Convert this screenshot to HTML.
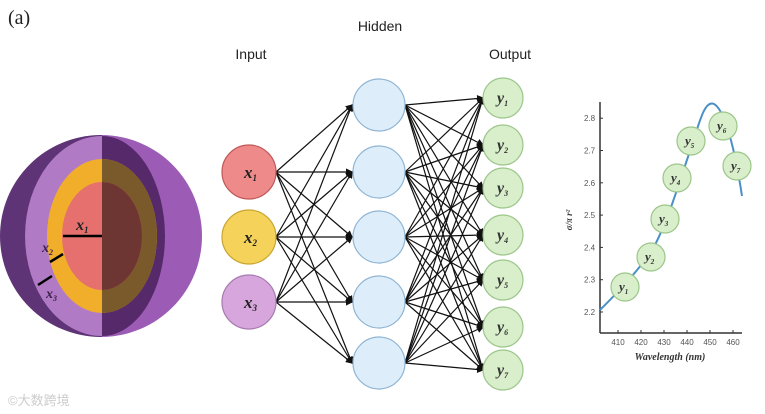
<!DOCTYPE html><html><head><style>body{margin:0;background:#fff}svg{display:block}</style></head><body>
<svg width="765" height="414" viewBox="0 0 765 414" xmlns="http://www.w3.org/2000/svg">
<defs><marker id="a" markerWidth="6" markerHeight="6" refX="5" refY="3" orient="auto"><path d="M0,0L6,3L0,6z" fill="#111"/></marker>
<clipPath id="c"><circle cx="101" cy="236" r="101"/></clipPath></defs>
<text x="8" y="24" font-family="Liberation Serif,serif" font-size="20" fill="#222">(a)</text>
<g clip-path="url(#c)">
<rect x="0" y="130" width="102" height="220" fill="#5e3477"/>
<rect x="102" y="130" width="102" height="220" fill="#9c5cb6"/>
<path d="M102,136 A77,100 0 0 0 102,336z" fill="#b07ac4"/>
<path d="M102,136 A63,100 0 0 1 102,336z" fill="#55296a"/>
<ellipse cx="102" cy="236" rx="55" ry="77" fill="#f0ae2a"/>
<path d="M102,159 A55,77 0 0 1 102,313z" fill="#7a5a2a"/>
<ellipse cx="102" cy="236" rx="40" ry="54" fill="#e5706e"/>
<path d="M102,182 A40,54 0 0 1 102,290z" fill="#6e3632"/>
</g>
<line x1="63" y1="236" x2="102" y2="236" stroke="#000" stroke-width="2.5"/>
<line x1="50" y1="262" x2="63" y2="254" stroke="#000" stroke-width="2.5"/>
<line x1="38" y1="285" x2="52" y2="276" stroke="#000" stroke-width="2.5"/>
<g font-family="Liberation Serif,serif" font-style="italic" font-weight="bold" fill="#222">
<text x="76" y="230" font-size="16">x<tspan font-size="9" dy="3">1</tspan></text>
<text x="42" y="252" font-size="14" fill="#3a1f4a">x<tspan font-size="8" dy="3">2</tspan></text>
<text x="46" y="298" font-size="14" fill="#3a1f4a">x<tspan font-size="8" dy="3">3</tspan></text>
</g>
<g font-family="Liberation Sans,sans-serif" font-size="14" fill="#222">
<text x="380" y="31" text-anchor="middle">Hidden</text>
<text x="251" y="59" text-anchor="middle">Input</text>
<text x="510" y="59" text-anchor="middle">Output</text>
</g>
<g stroke="#111" stroke-width="1.2" marker-end="url(#a)" id="L"></g>
<g id="N"></g>
<g font-family="Liberation Sans,sans-serif" font-size="9" fill="#444">
<line x1="600" y1="102" x2="600" y2="333" stroke="#333" stroke-width="1.5"/>
<line x1="600" y1="333" x2="742" y2="333" stroke="#333" stroke-width="1.5"/>
</g>
<g id="C"></g>
</svg>
<script>
var NS="http://www.w3.org/2000/svg";function el(p,t,a,txt){var e=document.createElementNS(NS,t);for(var k in a)e.setAttribute(k,a[k]);if(txt!=null)e.textContent=txt;p.appendChild(e);return e}
var L=document.getElementById('L'),N=document.getElementById('N'),C=document.getElementById('C');
var inY=[172,237,302],hY=[105,172,237,302,363],oY=[98,145,188,235,280,327,370];
inY.forEach(function(a){hY.forEach(function(b){el(L,'line',{x1:276,y1:a,x2:352,y2:b})})});
hY.forEach(function(a){oY.forEach(function(b){el(L,'line',{x1:405,y1:a,x2:483,y2:b})})});
var ic=[["#ee8a8a","#c05858"],["#f5d35a","#c9a530"],["#d6a6dc","#a77bb0"]];
inY.forEach(function(y,i){el(N,'circle',{cx:249,cy:y,r:27,fill:ic[i][0],stroke:ic[i][1],'stroke-width':1.2});
var t=el(N,'text',{x:244,y:y+6,'font-family':'Liberation Serif,serif','font-style':'italic','font-weight':'bold','font-size':17,fill:'#222'},'x');el(t,'tspan',{'font-size':9,dy:3},String(i+1));});
hY.forEach(function(y){el(N,'circle',{cx:379,cy:y,r:26,fill:"#ddeefa",stroke:"#8fb4d4",'stroke-width':1.2})});
oY.forEach(function(y,i){el(N,'circle',{cx:503,cy:y,r:20,fill:"#d9eecb",stroke:"#9bc68a",'stroke-width':1.2});
var t=el(N,'text',{x:497,y:y+5,'font-family':'Liberation Serif,serif','font-style':'italic','font-weight':'bold','font-size':16,fill:'#333'},'y');el(t,'tspan',{'font-size':8,dy:3},String(i+1));});
for(var v=0;v<=6;v++){var y=312-v*32.3;el(C,'text',{x:584,y:y+3,'font-family':'Liberation Sans,sans-serif','font-size':8,fill:'#555'},(2.2+v/10).toFixed(1));el(C,'line',{x1:600,y1:y,x2:603,y2:y,stroke:'#333'})}
for(var w=0;w<6;w++){var x=618+w*23;el(C,'text',{x:x,y:345,'text-anchor':'middle','font-family':'Liberation Sans,sans-serif','font-size':8,fill:'#555'},String(410+w*10));el(C,'line',{x1:x,y1:333,x2:x,y2:330,stroke:'#333'})}
el(C,'text',{x:670,y:360,'text-anchor':'middle','font-family':'Liberation Serif,serif','font-style':'italic','font-weight':'bold','font-size':10,fill:'#333'},'Wavelength (nm)');
el(C,'text',{x:572,y:220,transform:'rotate(-90 572 220)','text-anchor':'middle','font-family':'Liberation Serif,serif','font-style':'italic','font-weight':'bold','font-size':9,fill:'#333'},'σ/π r²');
el(C,'path',{d:'M600,310 C615,295 640,270 655,245 C670,215 680,180 692,145 C700,120 705,100 714,104 C725,110 735,150 742,196',fill:'none',stroke:'#4a90c8','stroke-width':2});
[[625,287],[651,257],[665,219],[677,178],[691,141],[723,126],[737,166]].forEach(function(p,i){el(C,'circle',{cx:p[0],cy:p[1],r:14,fill:'#d9eecb',stroke:'#9bc68a','stroke-width':1.2});
var t=el(C,'text',{x:p[0]-6,y:p[1]+4,'font-family':'Liberation Serif,serif','font-style':'italic','font-weight':'bold','font-size':13,fill:'#333'},'y');el(t,'tspan',{'font-size':7,dy:3},String(i+1));});
</script>
<div style="position:absolute;left:8px;top:390px;font:13px 'Liberation Sans','Noto Sans CJK SC',sans-serif;color:#ccc">©大数跨境</div>
</body></html>
